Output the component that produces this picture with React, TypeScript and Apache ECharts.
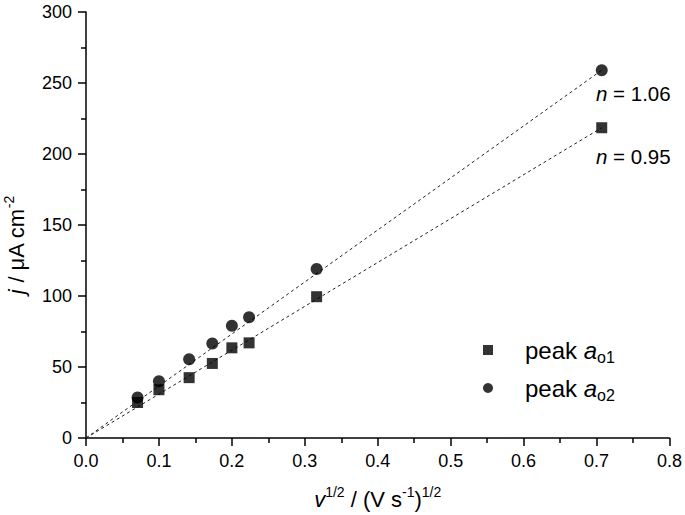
import React, { useEffect, useRef } from 'react';
import * as echarts from 'echarts';

const xValues = [0.0707, 0.1, 0.1414, 0.1732, 0.2, 0.2236, 0.3162, 0.7071];
const peakAo1 = [25, 34, 42.5, 52.5, 63.5, 67, 99.5, 218.5];
const peakAo2 = [28.5, 40, 55.5, 66.5, 79, 85, 119, 259];
const fitAo1 = [[0, 0], [0.7071, 218.5]];
const fitAo2 = [[0, 0], [0.7071, 259]];
const nAo1 = '0.95';
const nAo2 = '1.06';

const FONT = '"Liberation Sans", Arial, sans-serif';

export default function App() {
  const ref = useRef<HTMLDivElement>(null);
  useEffect(() => {
    if (!ref.current) return;
    const chart = echarts.init(ref.current, null, { renderer: 'svg' });
    const supRich = {
      m: { fontSize: 22, fontFamily: FONT, color: '#000' },
      i: { fontSize: 22, fontFamily: FONT, fontStyle: 'italic', color: '#000' },
      sup: { fontSize: 14, fontFamily: FONT, color: '#000', padding: [0, 0, 14, 0] },
    };
    const legRich = {
      t: { fontSize: 24, fontFamily: FONT, color: '#000', lineHeight: 26, padding: [0, 0, 0, 27] },
      i: { fontSize: 24, fontFamily: FONT, fontStyle: 'italic', color: '#000', lineHeight: 26 },
      s: { fontSize: 16, fontFamily: FONT, color: '#000', lineHeight: 26, padding: [14, 0, 0, 0] },
    };
    const nRich = {
      i: { fontSize: 20.5, fontFamily: FONT, fontStyle: 'italic', color: '#000' },
      m: { fontSize: 20.5, fontFamily: FONT, color: '#000' },
    };
    const axisLine = { show: true, lineStyle: { color: '#000', width: 1.5 } };
    chart.setOption({
      animation: false,
      backgroundColor: '#fff',
      textStyle: { fontFamily: FONT },
      grid: { left: 86, right: 13, top: 12, bottom: 75, containLabel: false },
      xAxis: {
        type: 'value',
        min: 0,
        max: 0.8,
        interval: 0.1,
        axisLine,
        axisTick: { show: true, inside: false, length: 8, lineStyle: { color: '#000', width: 1.5 } },
        minorTick: { show: true, splitNumber: 2, length: 5, lineStyle: { color: '#000', width: 1.5 } },
        splitLine: { show: false },
        axisLabel: {
          color: '#000', fontSize: 18, fontFamily: FONT, margin: 14,
          formatter: (v: number) => v.toFixed(1),
        },
        name: '{i|v}{sup|1/2}{m| / (V s}{sup|-1}{m|)}{sup|1/2}',
        nameLocation: 'middle',
        nameGap: 47,
        nameTextStyle: { rich: supRich },
      },
      yAxis: {
        type: 'value',
        min: 0,
        max: 300,
        interval: 50,
        axisLine,
        axisTick: { show: true, inside: false, length: 8, lineStyle: { color: '#000', width: 1.5 } },
        minorTick: { show: true, splitNumber: 2, length: 5, lineStyle: { color: '#000', width: 1.5 } },
        splitLine: { show: false },
        axisLabel: { color: '#000', fontSize: 18, fontFamily: FONT, margin: 14 },
      },
      legend: {
        orient: 'vertical',
        left: 478,
        top: 330,
        itemWidth: 10,
        itemHeight: 10,
        itemGap: 8,
        data: [
          { name: 'peak ao1', icon: 'rect' },
          { name: 'peak ao2', icon: 'circle' },
        ],
        formatter: (name: string) =>
          name === 'peak ao1' ? '{t|peak }{i|a}{s|o1}' : '{t|peak }{i|a}{s|o2}',
        textStyle: { rich: legRich },
      },
      graphic: [
        {
          type: 'text',
          x: 16,
          y: 245,
          rotation: Math.PI / 2,
          style: {
            text: '{i|j}{m| / μA cm}{sup|-2}',
            rich: supRich,
            align: 'center',
            verticalAlign: 'middle',
          },
        },
        {
          type: 'text',
          x: 596,
          y: 93,
          style: { text: '{i|n}{m| = ' + nAo2 + '}', rich: nRich, verticalAlign: 'middle' },
        },
        {
          type: 'text',
          x: 596,
          y: 156,
          style: { text: '{i|n}{m| = ' + nAo1 + '}', rich: nRich, verticalAlign: 'middle' },
        },
      ],
      series: [
        {
          name: 'fit ao1',
          type: 'line',
          data: fitAo1,
          showSymbol: false,
          symbol: 'none',
          lineStyle: { color: '#222', width: 1, type: [3, 3] },
          silent: true,
          z: 1,
        },
        {
          name: 'fit ao2',
          type: 'line',
          data: fitAo2,
          showSymbol: false,
          symbol: 'none',
          lineStyle: { color: '#222', width: 1, type: [3, 3] },
          silent: true,
          z: 1,
        },
        {
          name: 'peak ao1',
          type: 'scatter',
          symbol: 'rect',
          symbolSize: 11,
          itemStyle: { color: '#000' },
          data: xValues.map((x, i) => [x, peakAo1[i]]),
          z: 3,
        },
        {
          name: 'peak ao2',
          type: 'scatter',
          symbol: 'circle',
          symbolSize: 12,
          itemStyle: { color: '#000' },
          data: xValues.map((x, i) => [x, peakAo2[i]]),
          z: 3,
        },
      ],
    });
    return () => chart.dispose();
  }, []);
  return (
    <div
      ref={ref}
      style={{ position: 'fixed', left: 0, top: 0, width: 685, height: 515, background: '#fff' }}
    />
  );
}
